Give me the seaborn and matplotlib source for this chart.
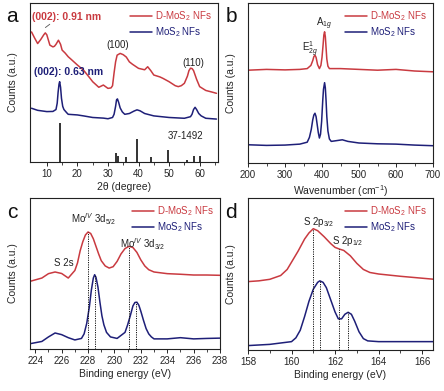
import numpy as np
import pandas as pd
import matplotlib
matplotlib.use("Agg")
import matplotlib.pyplot as plt
import seaborn as sns

# ---------------- data ----------------
series = ["D-MoS$_2$ NFs", "MoS$_2$ NFs"]
red = "#c93a40"
blue = "#1e1f78"

# panel a: XRD
xa_red = [5, 6, 7, 8, 9, 9.5, 10, 11, 12, 12.5, 13, 13.8, 14.5, 15, 16, 17, 18, 20, 22, 24, 25, 27, 28.5, 30, 31,
          31.5, 32, 32.5, 33, 34, 35, 36, 37, 38, 40, 42, 43, 44, 45, 47, 48, 50, 52, 53, 54, 55, 56, 56.5, 57, 57.5,
          58, 59, 60, 62, 64, 65.5]
ya_red = [0.818, 0.78, 0.745, 0.77, 0.80, 0.812, 0.80, 0.735, 0.724, 0.728, 0.74, 0.766, 0.74, 0.704, 0.685, 0.662,
          0.645, 0.610, 0.578, 0.53, 0.505, 0.47, 0.484, 0.463, 0.466, 0.48, 0.56, 0.63, 0.672, 0.683, 0.675, 0.66,
          0.63, 0.615, 0.589, 0.58, 0.599, 0.575, 0.547, 0.535, 0.526, 0.505, 0.48, 0.474, 0.48, 0.495, 0.54, 0.575,
          0.59, 0.588, 0.575, 0.52, 0.474, 0.45, 0.44, 0.432]
xa_blue = [5, 7, 10, 12, 13, 13.4, 13.7, 14, 14.2, 14.5, 14.8, 15.2, 15.6, 16.5, 17, 20, 22, 25, 28.5, 30, 31.5, 32,
           32.5, 32.8, 33.1, 33.5, 34, 34.7, 35.5, 37, 38.5, 39.5, 40.5, 42, 45, 50, 55, 57, 57.5, 58, 58.5, 59,
           59.7, 60.5, 62, 65.5]
ya_blue = [0.338, 0.325, 0.317, 0.318, 0.33, 0.37, 0.44, 0.49, 0.505, 0.47, 0.40, 0.35, 0.33, 0.31, 0.30, 0.296,
           0.29, 0.28, 0.276, 0.272, 0.28, 0.30, 0.35, 0.39, 0.397, 0.375, 0.34, 0.315, 0.30, 0.305, 0.32, 0.328,
           0.322, 0.305, 0.29, 0.28, 0.275, 0.285, 0.30, 0.33, 0.344, 0.33, 0.305, 0.29, 0.275, 0.27]
ref_pos = [14.4, 32.7, 33.3, 35.9, 39.5, 44.2, 49.8, 55.9, 58.3, 60.1]
ref_h = [0.244, 0.056, 0.035, 0.03, 0.144, 0.03, 0.073, 0.012, 0.04, 0.035]

# panel b: Raman
xb_red = [200, 250, 300, 340, 360, 370, 375, 378, 381, 384, 388, 393, 397, 400, 403, 405, 407, 409, 411, 413, 416,
          420, 450, 500, 550, 600, 650, 700]
yb_red = [0.58, 0.585, 0.582, 0.585, 0.59, 0.61, 0.64, 0.665, 0.674, 0.66, 0.615, 0.59, 0.61, 0.66, 0.74, 0.80,
          0.82, 0.79, 0.72, 0.65, 0.605, 0.59, 0.59, 0.585, 0.58, 0.585, 0.575, 0.57]
xb_blue = [200, 250, 300, 340, 360, 366, 371, 375, 378, 381, 384, 387, 390, 393, 396, 399, 402, 404, 407, 409, 411,
           413, 416, 420, 425, 440, 455, 470, 500, 550, 600, 650, 700]
yb_blue = [0.114, 0.11, 0.112, 0.118, 0.13, 0.16, 0.21, 0.27, 0.30, 0.311, 0.29, 0.24, 0.19, 0.156, 0.18, 0.26, 0.39,
           0.46, 0.502, 0.47, 0.39, 0.29, 0.20, 0.15, 0.135, 0.14, 0.145, 0.135, 0.125, 0.12, 0.118, 0.112, 0.108]

# panel c: Mo 3d XPS
xc_red = [223.6, 224.5, 225, 225.5, 226, 226.5, 227, 227.2, 227.4, 227.6, 227.8, 228, 228.2, 228.4, 228.6, 228.8,
          229, 229.3, 229.6, 229.9, 230.2, 230.5, 230.8, 231.1, 231.4, 231.7, 232, 232.3, 232.6, 233, 234, 235, 236,
          237, 238]
yc_red = [0.448, 0.47, 0.499, 0.51, 0.50, 0.47, 0.52, 0.57, 0.65, 0.71, 0.755, 0.775, 0.765, 0.73, 0.68, 0.63,
          0.585, 0.55, 0.536, 0.545, 0.58, 0.63, 0.665, 0.68, 0.672, 0.64, 0.59, 0.55, 0.525, 0.51, 0.499, 0.495,
          0.49, 0.49, 0.488]
xc_blue = [223.6, 224.5, 225, 225.5, 226, 226.5, 227, 227.5, 227.7, 227.9, 228.1, 228.25, 228.4, 228.5, 228.6,
           228.75, 228.9, 229.05, 229.2, 229.4, 229.7, 230.2, 230.8, 231, 231.2, 231.4, 231.55, 231.7, 231.85, 232,
           232.2, 232.4, 232.6, 232.8, 233, 234, 235, 236, 237, 238]
yc_blue = [0.035, 0.05, 0.08, 0.106, 0.095, 0.075, 0.06, 0.07, 0.10, 0.17, 0.28, 0.39, 0.47, 0.492, 0.475, 0.41,
           0.31, 0.22, 0.16, 0.11, 0.08, 0.07, 0.11, 0.16, 0.22, 0.285, 0.308, 0.31, 0.29, 0.25, 0.19, 0.135, 0.10,
           0.08, 0.067, 0.067, 0.075, 0.067, 0.07, 0.072]
c_peak_x = [228.0, 228.5, 231.1, 231.65]
c_peak_y = [0.775, 0.492, 0.68, 0.311]

# panel d: S 2p XPS
xd_red = [158, 158.5, 159, 159.5, 159.8, 160, 160.3, 160.6, 160.8, 161, 161.2, 161.5, 161.8, 162, 162.2, 162.4,
          162.7, 163, 163.3, 163.6, 164, 165, 166.5]
yd_red = [0.45, 0.455, 0.465, 0.49, 0.53, 0.578, 0.65, 0.73, 0.77, 0.798, 0.785, 0.745, 0.70, 0.675, 0.664, 0.655,
          0.62, 0.57, 0.53, 0.51, 0.50, 0.485, 0.466]
xd_blue = [158, 159, 160, 160.2, 160.4, 160.6, 160.8, 161, 161.2, 161.3, 161.45, 161.6, 161.8, 162, 162.15, 162.3,
           162.45, 162.6, 162.75, 162.9, 163.1, 163.3, 163.5, 164, 165, 166.5]
yd_blue = [0.029, 0.037, 0.055, 0.08, 0.13, 0.22, 0.32, 0.40, 0.445, 0.455, 0.445, 0.41, 0.33, 0.25, 0.205, 0.205,
           0.235, 0.248, 0.235, 0.19, 0.12, 0.075, 0.06, 0.055, 0.055, 0.055]
d_peak_x = [161.0, 161.3, 162.2, 162.6]
d_peak_y = [0.798, 0.455, 0.664, 0.248]

# ---------------- style ----------------
sns.set_theme(style="ticks")
plt.rcParams["font.family"] = ["Liberation Sans", "DejaVu Sans"]
plt.rcParams["mathtext.fontset"] = "custom"
plt.rcParams["mathtext.rm"] = "Liberation Sans"
plt.rcParams["mathtext.it"] = "Liberation Sans:italic"
plt.rcParams["mathtext.bf"] = "Liberation Sans:bold"
plt.rcParams["axes.linewidth"] = 0.8

W, H = 444, 391
fig = plt.figure(figsize=(W / 100, H / 100), dpi=100)


def box(l, t, r, b):
    return [l / W, (H - b) / H, (r - l) / W, (b - t) / H]


axa = fig.add_axes(box(30, 3, 218, 162))
axb = fig.add_axes(box(248, 3, 433, 163))
axc = fig.add_axes(box(30, 198, 220, 349))
axd = fig.add_axes(box(248, 198, 433, 350))


def draw(ax, xr, yr, xb, yb):
    df = pd.DataFrame({
        "x": list(xr) + list(xb),
        "y": list(yr) + list(yb),
        "s": [series[0]] * len(xr) + [series[1]] * len(xb),
    })
    sns.lineplot(data=df, x="x", y="y", hue="s", hue_order=series,
                 palette=[red, blue], estimator=None, linewidth=1.1, ax=ax)
    leg = ax.legend(loc="upper right", frameon=False, fontsize=7, handlelength=2.3,
                    borderaxespad=0.25, labelspacing=0.25, handletextpad=0.3)
    for t, c in zip(leg.get_texts(), [red, blue]):
        t.set_color(c)
    ax.set_ylim(0, 1)
    ax.set_yticks([])
    ax.set_ylabel("Counts (a.u.)", fontsize=7.5, labelpad=9)
    ax.tick_params(axis="x", labelsize=7, length=3, width=0.7, pad=2, direction="out")
    ax.tick_params(axis="x", which="minor", length=1.8, width=0.6, direction="out")
    for s in ax.spines.values():
        s.set_visible(True)
        s.set_color("#222222")


# panel a
draw(axa, xa_red, ya_red, xa_blue, ya_blue)
axa.vlines(ref_pos, 0, ref_h, color="#111111", linewidth=1.2)
axa.set_xlim(4.5, 66)
axa.set_xticks([10, 20, 30, 40, 50, 60])
axa.set_xticks([15, 25, 35, 45, 55, 65], minor=True)
axa.set_xlabel("2θ (degree)", fontsize=7.5, labelpad=2)
axa.text(5.3, 0.91, "(002): 0.91 nm", color=red, fontsize=7.5, fontweight="bold", va="center")
axa.annotate("", xy=(8.8, 0.835), xytext=(11.7, 0.877),
             arrowprops=dict(arrowstyle="-", color="#555555", lw=0.6))
axa.text(5.8, 0.565, "(002): 0.63 nm", color=blue, fontsize=7.5, fontweight="bold", va="center")
axa.text(33.2, 0.735, "(100)", fontsize=7, ha="center", va="center", color="#222222")
axa.text(58.0, 0.625, "(110)", fontsize=7, ha="center", va="center", color="#222222")
axa.text(55.5, 0.165, "37-1492", fontsize=7, ha="center", va="center", color="#222222")

# panel b
draw(axb, xb_red, yb_red, xb_blue, yb_blue)
axb.set_xlim(200, 700)
axb.set_xticks([200, 300, 400, 500, 600, 700])
axb.set_xticks([250, 350, 450, 550, 650], minor=True)
axb.set_xlabel("Wavenumber (cm$^{-1}$)", fontsize=7.5, labelpad=2)
axb.text(367, 0.71, "E$^1_{2g}$", fontsize=7, ha="center", va="center", color="#222222")
axb.text(406, 0.87, "A$_{1g}$", fontsize=7, ha="center", va="center", color="#222222")

# panel c
draw(axc, xc_red, yc_red, xc_blue, yc_blue)
axc.vlines(c_peak_x, 0, c_peak_y, color="#111111", linewidth=0.7, linestyles=(0, (1.2, 1.2)))
axc.set_xlim(223.6, 238)
axc.set_xticks(list(range(224, 239, 2)))
axc.set_xticks(list(range(225, 238, 2)), minor=True)
axc.set_xlabel("Binding energy (eV)", fontsize=7.5, labelpad=2)
axc.text(226.2, 0.57, "S 2s", fontsize=7, ha="center", va="center", color="#222222")
axc.text(228.4, 0.86, "Mo$^{IV}$ 3d$_{5/2}$", fontsize=7, ha="center", va="center", color="#222222")
axc.text(232.1, 0.695, "Mo$^{IV}$ 3d$_{3/2}$", fontsize=7, ha="center", va="center", color="#222222")

# panel d
draw(axd, xd_red, yd_red, xd_blue, yd_blue)
axd.vlines(d_peak_x, 0, d_peak_y, color="#111111", linewidth=0.7, linestyles=(0, (1.2, 1.2)))
axd.set_xlim(158, 166.5)
axd.set_xticks([158, 160, 162, 164, 166])
axd.set_xticks([159, 161, 163, 165], minor=True)
axd.set_xlabel("Binding energy (eV)", fontsize=7.5, labelpad=2)
axd.text(161.25, 0.845, "S 2p$_{3/2}$", fontsize=7, ha="center", va="center", color="#222222")
axd.text(162.6, 0.715, "S 2p$_{1/2}$", fontsize=7, ha="center", va="center", color="#222222")

# panel letters
for lbl, (px, py) in zip("abcd", [(12, 17), (231, 17), (12, 212), (231, 212)]):
    fig.text(px / W, 1 - py / H, lbl, fontsize=15, ha="center", va="center", color="#111111")

fig.savefig("out.png", dpi=100)
